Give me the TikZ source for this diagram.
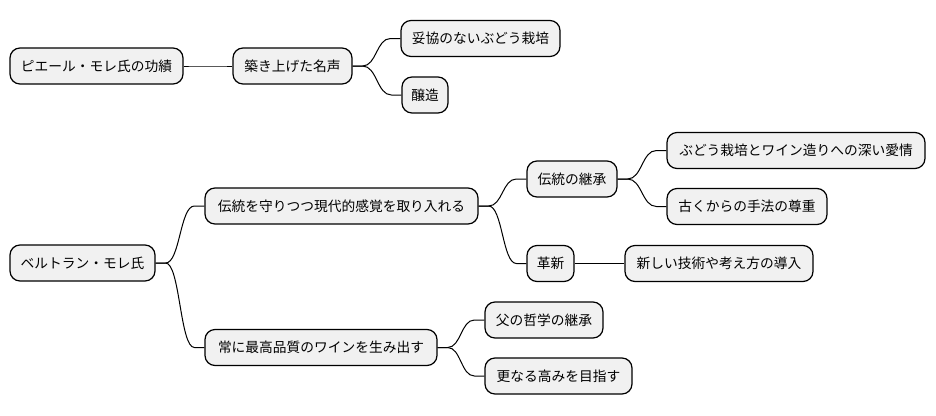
\documentclass[tikz,border=0pt]{standalone}
\usepackage{fontspec}
\setmainfont{Noto Sans CJK JP}
\usetikzlibrary{calc}
\definecolor{boxfill}{HTML}{F1F1F1}
\tikzset{
  mmbox/.style={draw=black, line width=0.9pt, fill=boxfill, rounded corners=7.5pt,
    inner sep=0pt, minimum height=27pt, minimum width=#1*0.75pt, align=center,
    font=\fontsize{10.3pt}{12pt}\selectfont},
  link/.style={draw=black, line width=0.75pt}
}
\newcommand\mmlink[2]{%
  \path (#1.east) ++(10,0) coordinate (tmpA);
  \path (#2.west) ++(-10,0) coordinate (tmpB);
  \path ($(tmpA)!.5!(tmpB)$) coordinate (tmpM);
  \draw[link] (#1.east) -- (tmpA) .. controls (tmpM |- tmpA) and (tmpM |- tmpB) .. (tmpB) -- (#2.west);
}
\begin{document}
\begin{tikzpicture}[x=0.75pt, y=-0.75pt]
\useasboundingbox[fill=white] (0,0) rectangle (936,415);
% top tree
\node[mmbox=173] (n1) at (96.5,66) {ピエール・モレ氏の功績};
\node[mmbox=119] (n2) at (292.5,66) {築き上げた名声};
\node[mmbox=159] (n3) at (480.5,38.5) {妥協のないぶどう栽培};
\node[mmbox=46]  (n4) at (425,95) {醸造};
% bottom tree
\node[mmbox=145] (m1) at (82.5,263) {ベルトラン・モレ氏};
\node[mmbox=273] (m2) at (341.5,206) {伝統を守りつつ現代的感覚を取り入れる};
\node[mmbox=232] (m3) at (321,347.5) {常に最高品質のワインを生み出す};
\node[mmbox=90]  (m4) at (572,179) {伝統の継承};
\node[mmbox=47]  (m5) at (550.5,263.5) {革新};
\node[mmbox=258] (m6) at (796,150.5) {ぶどう栽培とワイン造りへの深い愛情};
\node[mmbox=160] (m7) at (747,206.5) {古くからの手法の尊重};
\node[mmbox=188] (m8) at (719,263.5) {新しい技術や考え方の導入};
\node[mmbox=118] (m9) at (544,320) {父の哲学の継承};
\node[mmbox=147] (m10) at (558.5,376) {更なる高みを目指す};
% connectors
\mmlink{n1}{n2}
\mmlink{n2}{n3}
\mmlink{n2}{n4}
\mmlink{m1}{m2}
\mmlink{m1}{m3}
\mmlink{m2}{m4}
\mmlink{m2}{m5}
\mmlink{m4}{m6}
\mmlink{m4}{m7}
\mmlink{m5}{m8}
\mmlink{m3}{m9}
\mmlink{m3}{m10}
\end{tikzpicture}
\end{document}
